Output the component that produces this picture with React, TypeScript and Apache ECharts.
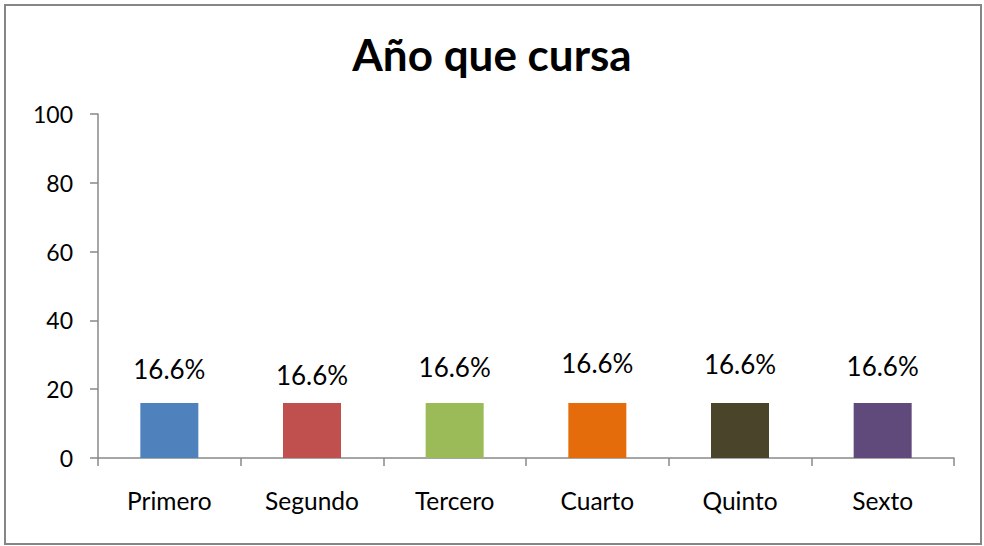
import React, { useEffect, useRef } from "react";
import * as echarts from "echarts";

const categories = ["Primero", "Segundo", "Tercero", "Cuarto", "Quinto", "Sexto"];
const values = [16, 16, 16, 16, 16, 16];
const labelTexts = ["16.6%", "16.6%", "16.6%", "16.6%", "16.6%", "16.6%"];
const barColors = ["#4F81BD", "#C0504D", "#9BBB59", "#E46C0A", "#4A452A", "#604A7B"];
// extra vertical lift (px) of each data label, as placed in the original
const labelLift = [21, 15, 23, 27, 26, 24];
const yTicks = { min: 0, max: 100, interval: 20 };

const FONT = "Lato, 'Open Sans', sans-serif";

export default function App() {
  const ref = useRef<HTMLDivElement>(null);
  useEffect(() => {
    document.body.style.margin = "0";
    if (!ref.current) return;
    const chart = echarts.init(ref.current, null, { renderer: "svg" });
    chart.setOption({
      animation: false,
      backgroundColor: "#ffffff",
      title: {
        text: "Año que cursa",
        left: "center",
        top: 27,
        textStyle: { fontFamily: FONT, fontWeight: "bold", fontSize: 44, color: "#000000" },
      },
      graphic: [
        {
          type: "rect",
          shape: { x: 5, y: 5, width: 976, height: 539 },
          style: { fill: "none", stroke: "#868686", lineWidth: 2 },
          silent: true,
        },
      ],
      grid: { left: 98, right: 30, top: 114, bottom: 88, containLabel: false },
      xAxis: {
        type: "category",
        data: categories,
        axisLine: { lineStyle: { color: "#898989", width: 1.5 } },
        axisTick: { show: true, length: 8, lineStyle: { color: "#898989", width: 1.5 } },
        axisLabel: { fontFamily: FONT, fontSize: 24.5, color: "#000000", margin: 30 },
        splitLine: { show: false },
      },
      yAxis: {
        type: "value",
        min: yTicks.min,
        max: yTicks.max,
        interval: yTicks.interval,
        axisLine: { show: true, lineStyle: { color: "#898989", width: 1.5 } },
        axisTick: { show: true, length: 8, lineStyle: { color: "#898989", width: 1.5 } },
        axisLabel: { fontFamily: FONT, fontSize: 23, color: "#000000", margin: 25 },
        splitLine: { show: false },
      },
      series: [
        {
          type: "bar",
          barWidth: 58,
          data: values.map((v, i) => ({
            value: v,
            itemStyle: { color: barColors[i] },
            label: {
              show: true,
              position: "top",
              distance: labelLift[i],
              formatter: () => labelTexts[i],
              fontFamily: FONT,
              fontSize: 26,
              color: "#000000",
            },
          })),
        },
      ],
    });
    return () => chart.dispose();
  }, []);
  return <div ref={ref} style={{ width: 984, height: 546 }} />;
}
